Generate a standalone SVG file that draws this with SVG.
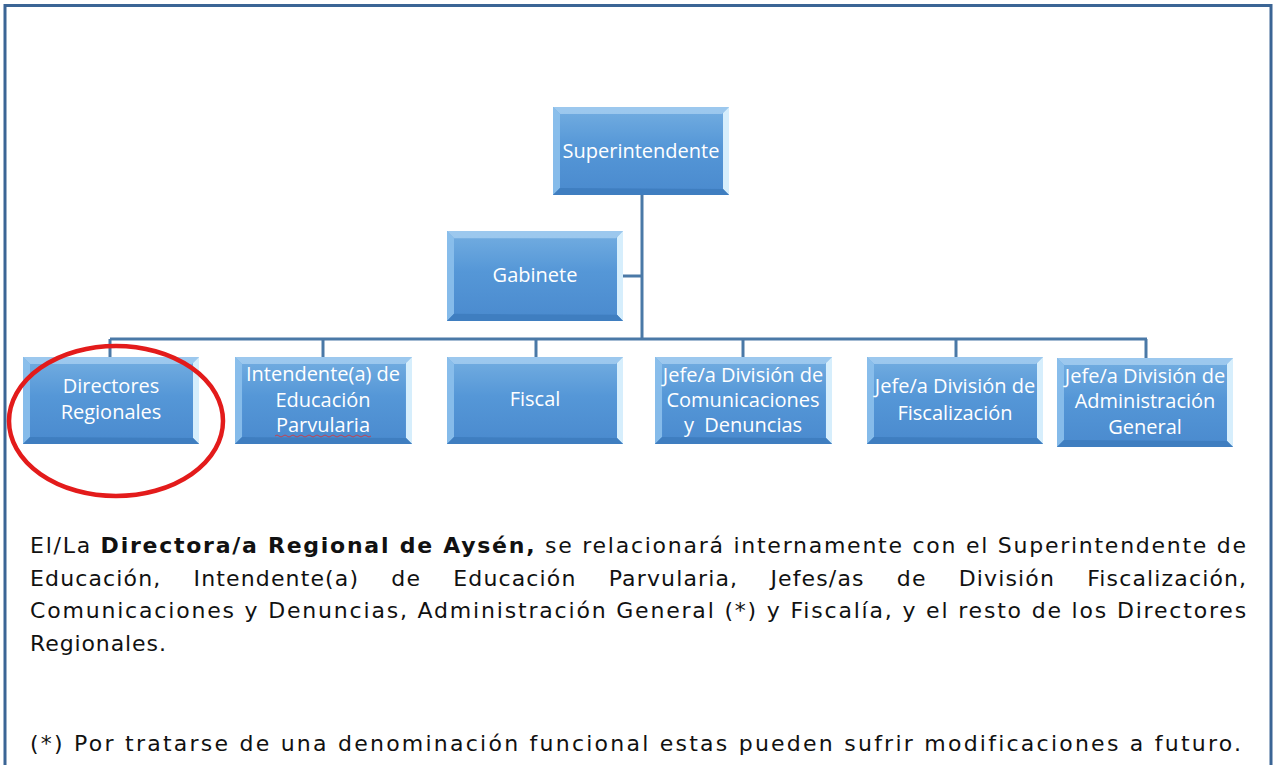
<svg xmlns="http://www.w3.org/2000/svg" xmlns:xlink="http://www.w3.org/1999/xlink" width="1274" height="765" viewBox="0 0 1274 765">
<style>
.lbl{font-family:"Open Sans","Liberation Sans",sans-serif;font-size:20px;fill:#ffffff;text-anchor:middle}
.para{font-family:"DejaVu Sans","Liberation Sans",sans-serif;font-size:22px;letter-spacing:0.9px;fill:#111111}
.conn{stroke:#4a79a7;stroke-width:3;fill:none}
</style>
<defs>
<linearGradient id="g" x1="0" y1="0" x2="0" y2="1">
<stop offset="0" stop-color="#74aee1"/>
<stop offset="0.45" stop-color="#5597d7"/>
<stop offset="1" stop-color="#4a8ace"/>
</linearGradient>
<symbol id="box" viewBox="0 0 176 88" preserveAspectRatio="none">
<rect x="0" y="0" width="176" height="88" fill="url(#g)"/>
<polygon points="0,0 176,0 169,7 7,7" fill="#a3cdf0" opacity="0.85"/>
<polygon points="0,0 7,7 7,81 0,88" fill="#8cc0ec" opacity="0.9"/>
<polygon points="176,0 176,88 170,82 170,6" fill="#d6eefc"/>
<polygon points="0,88 7,81 170,82 176,88" fill="#3f7ec0"/>
</symbol>
</defs>
<rect x="5" y="5.5" width="1266" height="800" fill="#ffffff" stroke="#3b6595" stroke-width="3"/>
<g id="connectors">
<line class="conn" x1="642" y1="195" x2="642" y2="340"/>
<line class="conn" x1="623" y1="276" x2="642" y2="276"/>
<line class="conn" x1="110" y1="339" x2="1147" y2="339"/>
<line class="conn" x1="110" y1="339" x2="110" y2="357"/>
<line class="conn" x1="323" y1="339" x2="323" y2="357"/>
<line class="conn" x1="536" y1="339" x2="536" y2="357"/>
<line class="conn" x1="743" y1="339" x2="743" y2="357"/>
<line class="conn" x1="956" y1="339" x2="956" y2="357"/>
<line class="conn" x1="1146" y1="339" x2="1146" y2="358"/>
</g>
<g id="superintendente"><use xlink:href="#box" x="553" y="107" width="176" height="88"/><text class="lbl" x="641" y="158">Superintendente</text></g>
<g id="gabinete"><use xlink:href="#box" x="447" y="231" width="176" height="90"/><text class="lbl" x="535" y="282">Gabinete</text></g>
<g id="directores"><use xlink:href="#box" x="23" y="357" width="176" height="87"/><text class="lbl" x="111" y="393">Directores</text><text class="lbl" x="111" y="419">Regionales</text></g>
<g id="intendente"><use xlink:href="#box" x="235" y="357" width="177" height="87"/><text class="lbl" x="323" y="381">Intendente(a) de</text><text class="lbl" x="323" y="407">Educación</text><text class="lbl" x="323" y="432">Parvularia</text><path d="M275 436 q2 -2 4 0 t4 0 t4 0 t4 0 t4 0 t4 0 t4 0 t4 0 t4 0 t4 0 t4 0 t4 0 t4 0 t4 0 t4 0 t4 0 t4 0 t4 0 t4 0 t4 0 t4 0 t4 0 t4 0 t4 0" fill="none" stroke="#e03030" stroke-width="0.8"/></g>
<g id="fiscal"><use xlink:href="#box" x="447" y="357" width="176" height="87"/><text class="lbl" x="535" y="406">Fiscal</text></g>
<g id="comunicaciones"><use xlink:href="#box" x="655" y="357" width="177" height="87"/><text class="lbl" x="743" y="382">Jefe/a División de</text><text class="lbl" x="743" y="407">Comunicaciones</text><text class="lbl" x="743" y="432" xml:space="preserve">y  Denuncias</text></g>
<g id="fiscalizacion"><use xlink:href="#box" x="867" y="357" width="176" height="87"/><text class="lbl" x="955" y="393">Jefe/a División de</text><text class="lbl" x="955" y="420">Fiscalización</text></g>
<g id="administracion"><use xlink:href="#box" x="1057" y="358" width="176" height="89"/><text class="lbl" x="1145" y="383">Jefe/a División de</text><text class="lbl" x="1145" y="408">Administración</text><text class="lbl" x="1145" y="434">General</text></g>
<ellipse cx="116" cy="421" rx="107" ry="75" fill="none" stroke="#e31b1b" stroke-width="4.5"/>
<text class="para" x="30" y="553" textLength="1217" lengthAdjust="spacing">El/La <tspan font-weight="bold">Directora/a Regional de Aysén,</tspan> se relacionará internamente con el Superintendente de</text>
<text class="para" x="30" y="585.5" textLength="1217" lengthAdjust="spacing" word-spacing="24">Educación, Intendente(a) de Educación Parvularia, Jefes/as de División Fiscalización,</text>
<text class="para" x="30" y="618" textLength="1217" lengthAdjust="spacing">Comunicaciones y Denuncias, Administración General (*) y Fiscalía, y el resto de los Directores</text>
<text class="para" x="30" y="651">Regionales.</text>
<text class="para" x="30" y="751" textLength="1212" lengthAdjust="spacing">(*) Por tratarse de una denominación funcional estas pueden sufrir modificaciones a futuro.</text>
</svg>
